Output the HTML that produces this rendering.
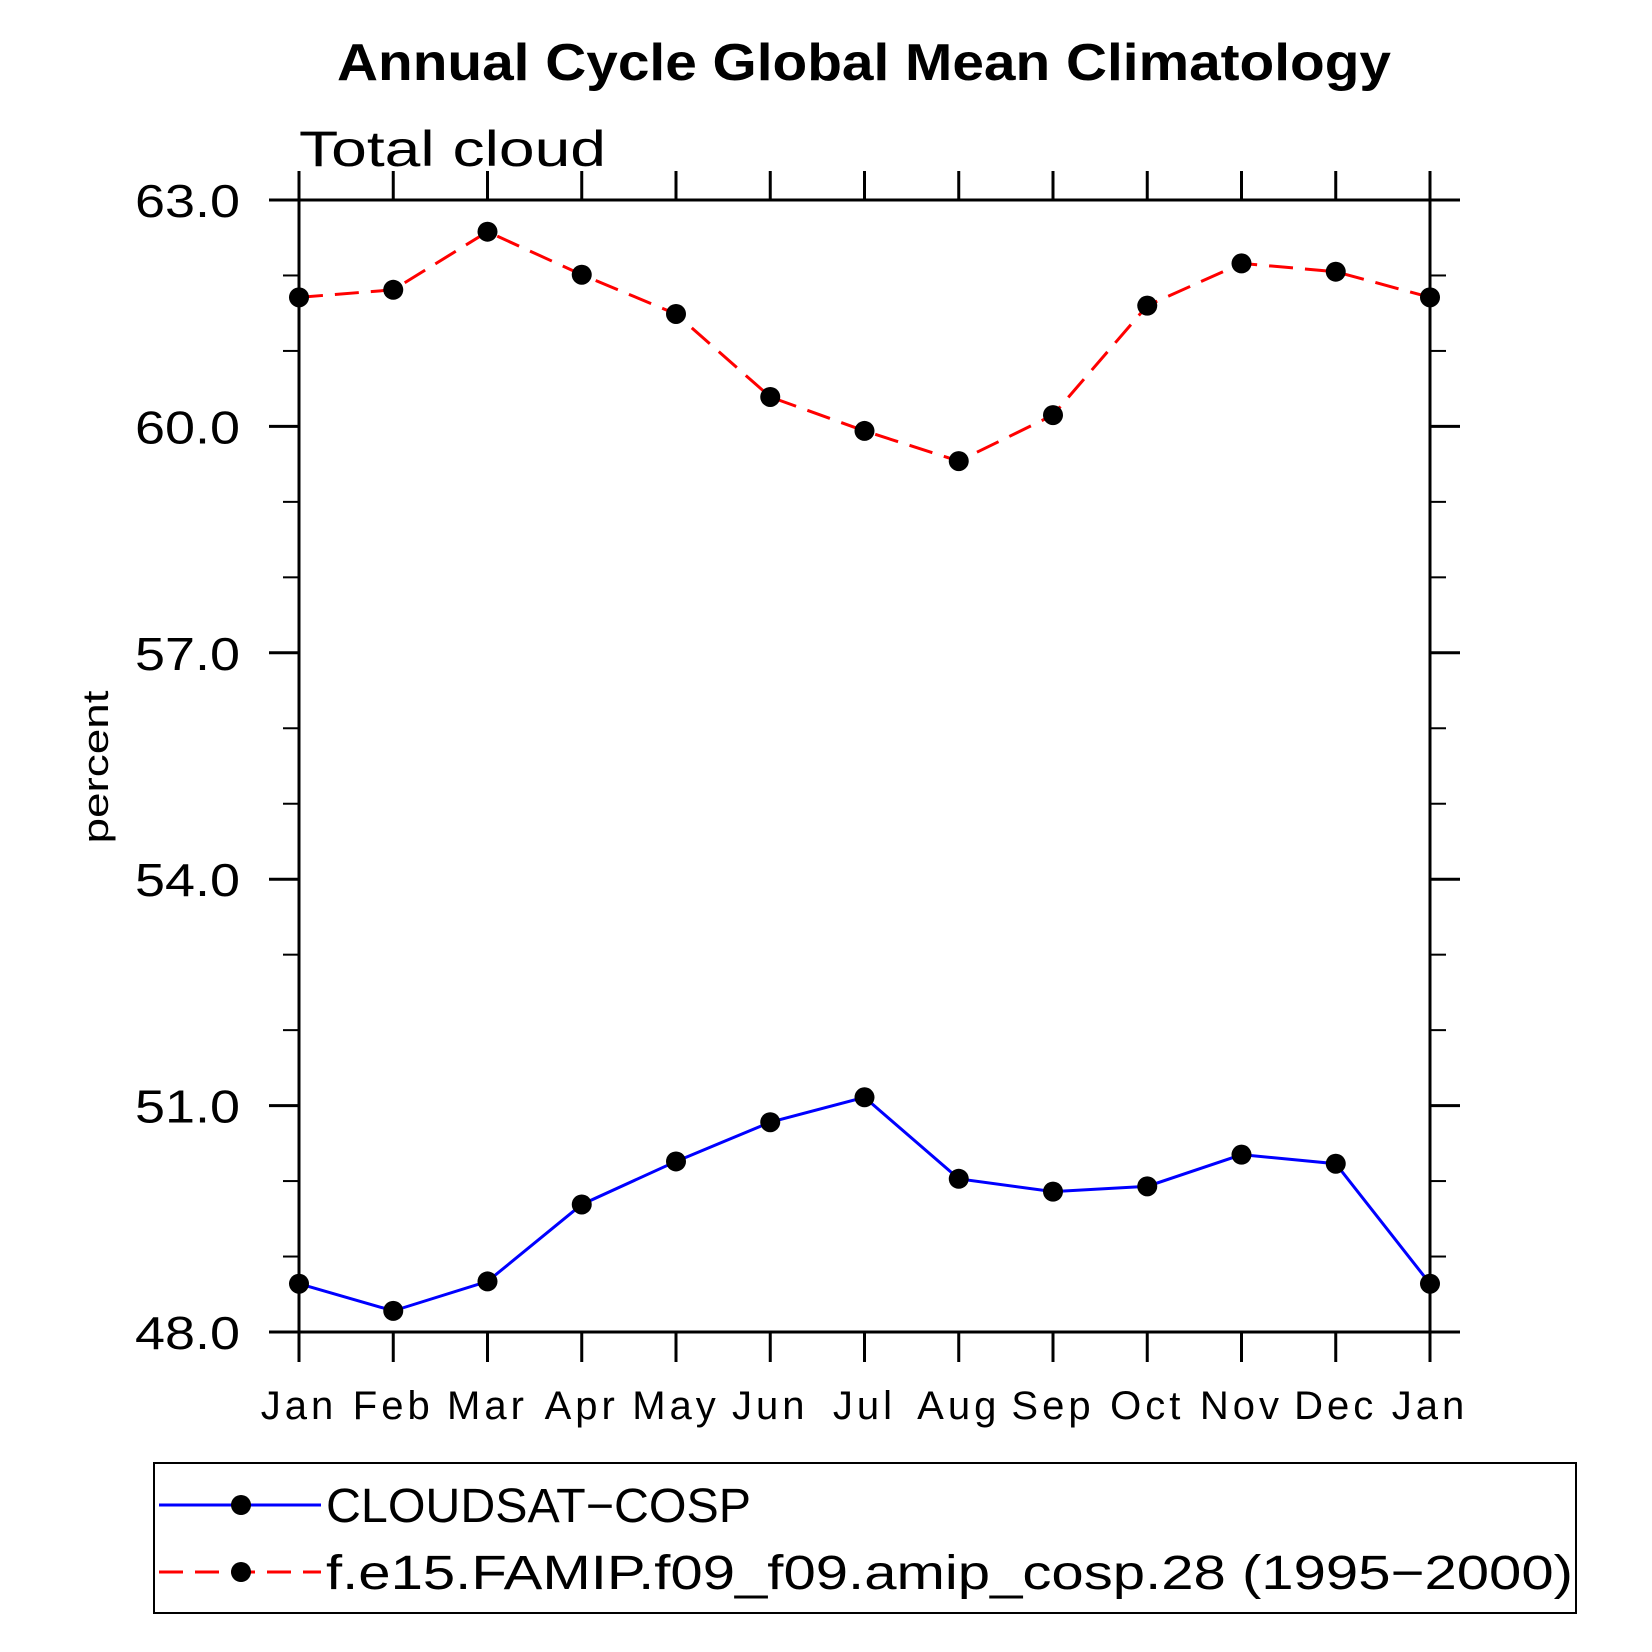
<!DOCTYPE html>
<html><head><meta charset="utf-8"><style>
html,body{margin:0;padding:0;background:#fff}
svg{display:block}
text{font-family:"Liberation Sans",sans-serif;fill:#000}
</style></head><body>
<svg id="chart" width="1652" height="1652" viewBox="0 0 1652 1652" xmlns="http://www.w3.org/2000/svg">
<text x="337" y="80" font-size="52" font-weight="bold" textLength="1054" lengthAdjust="spacingAndGlyphs">Annual Cycle Global Mean Climatology</text>
<text x="299" y="166" font-size="50" textLength="307" lengthAdjust="spacingAndGlyphs">Total cloud</text>
<text transform="translate(108,767) rotate(-90)" text-anchor="middle" font-size="36" textLength="153" lengthAdjust="spacingAndGlyphs">percent</text>
<g id="axes"></g>
<g id="series"></g>
<rect x="154" y="1463" width="1422" height="150" fill="none" stroke="#000" stroke-width="2"/>
<g>
<line x1="159" y1="1505" x2="321" y2="1505" stroke="#0000ff" stroke-width="3"/>
<circle cx="241" cy="1505" r="10"/>
<text x="326" y="1522" font-size="48" textLength="425" lengthAdjust="spacingAndGlyphs">CLOUDSAT−COSP</text></g>
<g>
<line x1="159" y1="1572" x2="321" y2="1572" stroke="#ff0000" stroke-width="3" stroke-dasharray="24,12"/>
<circle cx="241" cy="1572" r="10"/>
<text x="326" y="1589" font-size="48" textLength="1247" lengthAdjust="spacingAndGlyphs">f.e15.FAMIP.f09_f09.amip_cosp.28 (1995−2000)</text></g>
</svg>
<script>
const months=["Jan","Feb","Mar","Apr","May","Jun","Jul","Aug","Sep","Oct","Nov","Dec","Jan"];
const cloudsat=[48.64,48.28,48.67,49.69,50.26,50.78,51.11,50.03,49.86,49.93,50.35,50.23,48.64];
const model=[61.71,61.81,62.58,62.01,61.49,60.39,59.94,59.54,60.15,61.60,62.16,62.05,61.71];
const yTicks=[48,51,54,57,60,63];
const NS="http://www.w3.org/2000/svg";
const L=299,R=1430,T=200,B=1332,ymin=48,ymax=63;
const xs=i=>L+(R-L)*i/(months.length-1);
const ys=v=>B-(B-T)*(v-ymin)/(ymax-ymin);
function mk(tag,attrs,parent){const e=document.createElementNS(NS,tag);for(const k in attrs)e.setAttribute(k,attrs[k]);parent.appendChild(e);return e;}
const ax=document.getElementById('axes');
const frame=mk('rect',{x:L,y:T,width:R-L,height:B-T,fill:'none',stroke:'#000','stroke-width':3},ax);


months.forEach((m,i)=>{
  const x=xs(i);
  const t1=mk('line',{x1:x,y1:B,x2:x,y2:B+30,stroke:'#000','stroke-width':3},ax);
  
  
  const t2=mk('line',{x1:x,y1:T,x2:x,y2:T-29,stroke:'#000','stroke-width':3},ax);
  
  
  const lb=mk('text',{x:x,y:1419,'text-anchor':'middle','font-size':40,'letter-spacing':4},ax);
  lb.textContent=m;
  
  
});
for(let v=ymin;v<=ymax+1e-9;v+=1){
  const y=ys(v);const major=yTicks.includes(v);const len=major?30:16;
  const a=mk('line',{x1:L-len,y1:y,x2:L,y2:y,stroke:'#000','stroke-width':major?3:2},ax);
  
  
  const b=mk('line',{x1:R,y1:y,x2:R+len,y2:y,stroke:'#000','stroke-width':major?3:2},ax);
  
  
}
yTicks.forEach(v=>{
  const lb=mk('text',{x:135,y:ys(v)+17,'font-size':46,textLength:105,lengthAdjust:'spacingAndGlyphs'},ax);
  lb.textContent=v.toFixed(1);
  
  
});
const sg=document.getElementById('series');
function series(vals,color,dash,name){
  const pts=vals.map((v,i)=>xs(i)+','+ys(v)).join(' ');
  const pl=mk('polyline',{points:pts,fill:'none',stroke:color,'stroke-width':3},sg);
  if(dash)pl.setAttribute('stroke-dasharray',dash);
  
  
  vals.forEach((v,i)=>{
    const c=mk('circle',{cx:xs(i),cy:ys(v),r:10,fill:'#000'},sg);
    
    
  });
}
series(cloudsat,'#0000ff',null,'cloudsat');
series(model,'#ff0000','24,12','model');
</script>
</body></html>
